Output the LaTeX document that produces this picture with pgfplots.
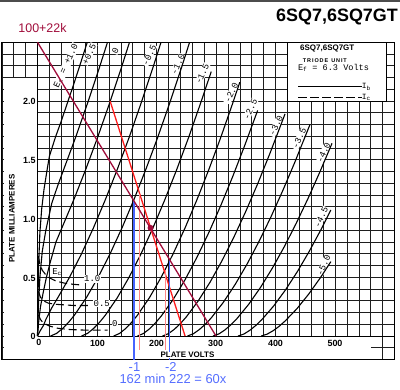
\documentclass[border=0pt]{standalone}
\usepackage{fontspec}
\setmainfont{Liberation Sans}
\newfontfamily\lettering{Liberation Mono}
\usepackage{pgfplots}
\pgfplotsset{compat=1.18}

\definecolor{loadA}{RGB}{160,12,58}
\definecolor{loadB}{RGB}{255,28,28}
\definecolor{pinkln}{RGB}{255,135,135}
\definecolor{blueln}{RGB}{70,100,255}
\definecolor{bluetx}{RGB}{85,110,255}
\definecolor{gridc}{RGB}{30,30,30}

\begin{document}
\begin{tikzpicture}
\begin{axis}[
  x=0.595bp, y=117.5bp,
  xmin=-60, xmax=600, ymin=-0.2, ymax=2.5,
  axis line style={draw=none},
  xtick={-60,-40,...,600},
  ytick={-0.2,-0.1,...,2.5},
  xticklabels={}, yticklabels={},
  tick label style={text opacity=0},
  major tick length=0pt,
  grid=major,
  grid style={gridc, line width=0.6bp},
  clip=false,
  cycle list={{black, no markers}},
]
% label strips of the sheet
\fill[white] (axis cs:-57,-0.2) rectangle (axis cs:0,2.2);
\fill[white] (axis cs:-57,-0.2) rectangle (axis cs:560,0);
% frame and axes
\draw[black, line width=0.9bp] (axis cs:-60,-0.2) rectangle (axis cs:600,2.5);
\draw[black, line width=1bp] (axis cs:0,0) -- (axis cs:0,2.5);
\draw[black, line width=1bp] (axis cs:0,0) -- (axis cs:600,0);
\fill[black!70] (axis cs:-70,2.8596) rectangle (axis cs:620,2.842);

% legend panel
\filldraw[fill=white, draw=black, line width=0.8bp] (axis cs:420,2.0) rectangle (axis cs:586,2.5);
\node[font=\bfseries\fontsize{8}{8}\selectfont] at (axis cs:487,2.447) {6SQ7,6SQ7GT};
\node[font=\bfseries\fontsize{5.5}{6}\selectfont] at (axis cs:483,2.345) {T\,R\,I\,O\,D\,E\ \ U\,N\,I\,T};
\node[font=\lettering\fontsize{8.6}{9}\selectfont] at (axis cs:497.5,2.28) {E\textsubscript{f} = 6.3 Volts};
\draw[black, line width=0.9bp] (axis cs:438,2.128) -- (axis cs:545,2.128);
\draw[black, line width=0.9bp, dash pattern=on 9bp off 3bp] (axis cs:438,2.032) -- (axis cs:545,2.032);
\node[font=\lettering\fontsize{8}{8}\selectfont, anchor=west, inner sep=0.5bp] at (axis cs:544,2.12) {I\textsubscript{b}};
\node[font=\lettering\fontsize{8}{8}\selectfont, anchor=west, inner sep=0.5bp] at (axis cs:544,2.03) {I\textsubscript{c}};

% curve labels
\begin{scope}[every node/.style={font=\lettering\fontsize{9}{9}\selectfont, fill=white, inner sep=0.6bp, rotate=65}]
\node at (axis cs:48,2.30) {E\textsubscript{c} = +1.0};
\node at (axis cs:87,2.40) {+0.5};
\node at (axis cs:131,2.43) {0};
\node at (axis cs:188,2.39) {-0.5};
\node at (axis cs:236,2.31) {-1.0};
\node at (axis cs:277,2.23) {-1.5};
\node at (axis cs:326,2.07) {-2.0};
\node at (axis cs:358,1.93) {-2.5};
\node at (axis cs:401,1.79) {-3.0};
\node at (axis cs:440,1.68) {-3.5};
\node at (axis cs:481,1.56) {-4.0};
\node at (axis cs:477,1.01) {-4.5};
\node at (axis cs:481,0.60) {-5.0};
\end{scope}

% plate current, Ec = +1.0 ... -5.0
\pgfplotsset{every axis plot/.append style={black, line width=1.1bp, smooth}}
\addplot coordinates {(0,0) (0.7,0.3) (2,0.62) (4,0.88) (7,1.08) (11,1.25) (16,1.41) (20,1.53) (30,1.69) (40,1.83) (50,1.98) (60,2.13) (70,2.284) (83.6,2.5)};
\addplot coordinates {(0,0) (1.5,0.25) (4,0.5) (8,0.72) (14,0.9) (24,1.13) (34,1.28) (44,1.417) (64,1.69) (84,1.98) (104,2.284) (117.6,2.5)};
\addplot coordinates {(0,0) (2,0.12) (5,0.25) (10,0.38) (15,0.5) (21,0.62) (31,0.8) (41,0.92) (61,1.16) (81,1.417) (101,1.69) (121,1.98) (141,2.284) (154.6,2.5)};
\addplot coordinates {(0,0) (4,0.04) (10,0.09) (14,0.14) (24,0.24) (34,0.325) (54,0.501) (74,0.70) (94,0.92) (114,1.16) (134,1.417) (154,1.69) (174,1.98) (194,2.284) (207.6,2.5)};
\addplot coordinates {(22,0) (32,0.022) (42,0.063) (52,0.115) (62,0.177) (82,0.325) (102,0.501) (122,0.70) (142,0.92) (162,1.16) (182,1.417) (202,1.69) (222,1.98) (242,2.284) (255.6,2.5)};
\addplot coordinates {(74,0) (84,0.022) (94,0.063) (104,0.115) (114,0.177) (134,0.325) (154,0.501) (174,0.70) (194,0.92) (214,1.16) (234,1.417) (254,1.69) (274,1.98) (292,2.25)};
\addplot coordinates {(128,0) (138,0.022) (148,0.063) (158,0.115) (168,0.177) (188,0.325) (208,0.501) (228,0.70) (248,0.92) (268,1.16) (288,1.417) (308,1.69) (328,1.98) (340,2.16)};
\addplot coordinates {(168,0) (178,0.021) (188,0.060) (198,0.110) (208,0.170) (228,0.311) (248,0.479) (268,0.670) (288,0.881) (308,1.110) (328,1.356) (348,1.618) (370,1.92)};
\addplot coordinates {(210,0) (220,0.020) (230,0.057) (240,0.105) (250,0.162) (270,0.298) (290,0.458) (310,0.640) (330,0.841) (350,1.060) (370,1.295) (390,1.546) (410,1.810) (416,1.89)};
\addplot coordinates {(252,0) (262,0.019) (272,0.055) (282,0.100) (292,0.154) (312,0.284) (332,0.437) (352,0.610) (372,0.802) (392,1.010) (412,1.235) (432,1.473) (452,1.725) (458,1.80)};
\addplot coordinates {(295,0) (305,0.018) (315,0.052) (325,0.095) (335,0.147) (355,0.270) (375,0.415) (395,0.580) (415,0.762) (435,0.961) (455,1.174) (475,1.401) (495,1.640)};
\addplot coordinates {(337,0) (347,0.017) (357,0.049) (367,0.090) (377,0.139) (397,0.256) (417,0.394) (437,0.550) (457,0.723) (477,0.911) (493,1.072)};
\addplot coordinates {(376,0) (386,0.016) (396,0.045) (406,0.082) (416,0.127) (436,0.232) (456,0.358) (476,0.500) (493,0.633)};

% grid current, Ec = 1.0, 0.5, 0
\addplot[dash pattern=on 8bp off 4bp] coordinates {(1.5,0.68) (4,0.61) (8,0.56) (14,0.52) (20,0.495) (30,0.47) (45,0.45) (60,0.44) (72,0.435)};
\addplot[dash pattern=on 8bp off 4bp] coordinates {(1.5,0.38) (5,0.33) (10,0.30) (18,0.28) (30,0.27) (45,0.265) (60,0.26) (75,0.26) (90,0.26)};
\addplot[dash pattern=on 8bp off 4bp] coordinates {(1.5,0.18) (5,0.14) (10,0.11) (20,0.085) (35,0.065) (55,0.055) (80,0.05) (100,0.05) (118,0.05)};
\node[font=\lettering\fontsize{9}{9}\selectfont, inner sep=0.5bp] at (axis cs:32.8,0.545) {E\textsubscript{c}};
\node[font=\lettering\fontsize{9}{9}\selectfont, fill=white, inner sep=0.5bp] at (axis cs:92,0.485) {1.0};
\node[font=\lettering\fontsize{9}{9}\selectfont, fill=white, inner sep=0.5bp] at (axis cs:108,0.28) {0.5};
\node[font=\lettering\fontsize{9}{9}\selectfont, fill=white, inner sep=0.5bp] at (axis cs:130,0.11) {0};

% load lines and readings
\pgfplotsset{every axis plot/.append style={sharp plot}}
\addplot[loadB, line width=1.3bp] coordinates {(122,2.0) (248,0)};
\addplot[pinkln, line width=1.2bp] coordinates {(171,1.21) (171,-0.12)};
\addplot[pinkln, line width=1.2bp] coordinates {(215,0.56) (215,-0.12)};
\addplot[blueln, line width=1.6bp] coordinates {(162,1.15) (162,-0.204)};
\addplot[blueln, line width=1.6bp] coordinates {(222,0.65) (222,-0.204)};
\addplot[loadA, line width=1.3bp] coordinates {(0,2.5) (300,0)};
\addplot[loadA, only marks, mark=*, mark size=2.4bp] coordinates {(190,0.92)};

% scale numbers and titles
\begin{scope}[every node/.style={font=\bfseries\fontsize{9}{9}\selectfont, inner sep=0pt}]
\node at (axis cs:2.5,-0.055) {0};
\node at (axis cs:100.8,-0.06) {100};
\node at (axis cs:200,-0.06) {200};
\node at (axis cs:299.5,-0.06) {300};
\node at (axis cs:400,-0.06) {400};
\node at (axis cs:500,-0.06) {500};
\node[anchor=east] at (axis cs:-3,0.0) {0};
\node[anchor=east] at (axis cs:-3,0.49) {0.5};
\node[anchor=east] at (axis cs:-3,0.99) {1.0};
\node[anchor=east] at (axis cs:-3,1.49) {1.5};
\node[anchor=east] at (axis cs:-3,2.0) {2.0};
\end{scope}
\node[font=\bfseries\fontsize{8}{8}\selectfont, rotate=90] at (axis cs:-42.9,1.0) {PLATE MILLIAMPERES};
\node[font=\bfseries\fontsize{8}{8}\selectfont, fill=white, inner sep=0.5bp] at (axis cs:252,-0.162) {PLATE VOLTS};
\node[font=\bfseries\fontsize{18}{18}\selectfont] at (axis cs:503.4,2.719) {6SQ7,6SQ7GT};
\node[font=\fontsize{12.5}{12.5}\selectfont, text=loadA] at (axis cs:8.4,2.621) {100+22k};
\node[font=\fontsize{13}{13}\selectfont, text=bluetx] at (axis cs:163,-0.264) {-1};
\node[font=\fontsize{13}{13}\selectfont, text=bluetx] at (axis cs:224,-0.264) {-2};
\node[font=\fontsize{13}{13}\selectfont, text=bluetx] at (axis cs:227.7,-0.366) {162 min 222 = 60x};

\coordinate (tl) at (axis cs:-63.03,2.8596);
\coordinate (br) at (axis cs:609.24,-0.4511);
\end{axis}
\pgfresetboundingbox
\useasboundingbox (tl) rectangle (br);
\end{tikzpicture}
\end{document}
